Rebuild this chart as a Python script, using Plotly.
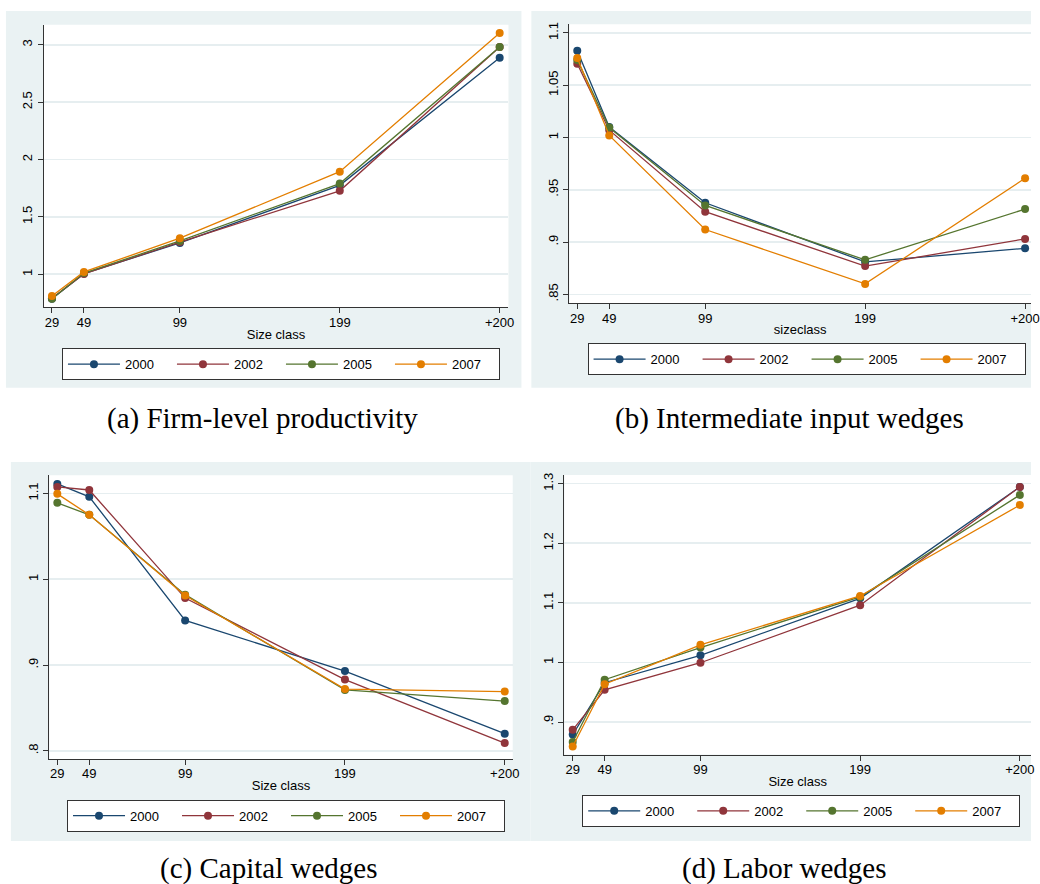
import plotly.graph_objects as go

# ---------------- data ----------------
size_labels = ["29", "49", "99", "199", "+200"]
size_codes = [20, 40, 100, 200, 300]
years = ["2000", "2002", "2005", "2007"]
colors = ["#1a476f", "#90353b", "#55752f", "#e37e00"]

# (a) Firm-level productivity
prod_2000 = [0.786, 1.005, 1.273, 1.775, 2.888]
prod_2002 = [0.790, 1.002, 1.280, 1.727, 2.980]
prod_2005 = [0.785, 1.010, 1.290, 1.790, 2.980]
prod_2007 = [0.809, 1.020, 1.314, 1.894, 3.103]

# (b) Intermediate input wedges
inter_2000 = [1.083, 1.010, 0.9376, 0.881, 0.894]
inter_2002 = [1.0705, 1.007, 0.929, 0.877, 0.903]
inter_2005 = [1.074, 1.0095, 0.935, 0.883, 0.9315]
inter_2007 = [1.076, 1.002, 0.912, 0.860, 0.961]

# (c) Capital wedges
cap_2000 = [1.111, 1.096, 0.952, 0.893, 0.820]
cap_2002 = [1.1075, 1.104, 0.978, 0.883, 0.809]
cap_2005 = [1.089, 1.075, 0.982, 0.871, 0.858]
cap_2007 = [1.0995, 1.075, 0.981, 0.872, 0.869]

# (d) Labor wedges
lab_2000 = [0.879, 0.966, 1.012, 1.1075, 1.2945]
lab_2002 = [0.887, 0.954, 0.9995, 1.096, 1.2945]
lab_2005 = [0.8665, 0.971, 1.025, 1.110, 1.281]
lab_2007 = [0.859, 0.9635, 1.0295, 1.1115, 1.264]

ticks_a = [1, 1.5, 2, 2.5, 3]
labels_a = ["1", "1.5", "2", "2.5", "3"]
ticks_b = [0.85, 0.9, 0.95, 1, 1.05, 1.1]
labels_b = [".85", ".9", ".95", "1", "1.05", "1.1"]
ticks_c = [0.8, 0.9, 1, 1.1]
labels_c = [".8", ".9", "1", "1.1"]
ticks_d = [0.9, 1, 1.1, 1.2, 1.3]
labels_d = [".9", "1", "1.1", "1.2", "1.3"]

captions = ["(a) Firm-level productivity", "(b) Intermediate input wedges",
            "(c) Capital wedges", "(d) Labor wedges"]
xtitles = ["Size class", "sizeclass", "Size class", "Size class"]

# ---------------- layout geometry ----------------
W, H = 1040, 884
SANS = "Liberation Sans, Arial, sans-serif"
SERIF = "Liberation Serif, Times New Roman, serif"

def px_x(v):
    return v / W

def px_y(v):
    return 1 - v / H

panels = [
    dict(series=[prod_2000, prod_2002, prod_2005, prod_2007],
         xdom=(43.9, 512.9), ydom=(22.7, 306.0), xr=[14.73, 305.5], yr=[0.7113, 3.1757],
         yt=ticks_a, yl=labels_a, leg=(62.5, 347.0), bg=(6, 9, 526, 386.7),
         cap=(264.5, 417)),
    dict(series=[inter_2000, inter_2002, inter_2005, inter_2007],
         xdom=(574.3, 1040), ydom=(22.3, 301.7), xr=[15.04, 303.7], yr=[0.8417, 1.1083],
         yt=ticks_b, yl=labels_b, leg=(592.7, 342.0), bg=(536, 9, 1040, 386.7),
         cap=(796, 417)),
    dict(series=[cap_2000, cap_2002, cap_2005, cap_2007],
         xdom=(49.7, 517.2), ydom=(474.3, 758.6), xr=[14.97, 305.0], yr=[0.7906, 1.1212],
         yt=ticks_c, yl=labels_c, leg=(67.6, 799.5), bg=(11, 461, 535, 841),
         cap=(271, 868)),
    dict(series=[lab_2000, lab_2002, lab_2005, lab_2007],
         xdom=(569.3, 1040), ydom=(474.0, 754.3), xr=[14.78, 307.0], yr=[0.8454, 1.3146],
         yt=ticks_d, yl=labels_d, leg=(587.3, 794.7), bg=(535, 461, 1040, 841),
         cap=(791.5, 868)),
]

fig = go.Figure()
shapes = []
annotations = []
layout_extra = {}

for i, p in enumerate(panels):
    n = "" if i == 0 else str(i + 1)
    xa, ya = "x" + n, "y" + n
    leg = "legend" + n
    for j, yr_name in enumerate(years):
        fig.add_trace(go.Scatter(
            x=size_codes, y=p["series"][j], mode="lines+markers", name=yr_name,
            xaxis=xa, yaxis=ya, legend=leg,
            line=dict(color=colors[j], width=1.3),
            marker=dict(color=colors[j], size=8, symbol="circle"),
            hoverinfo="skip"))
    layout_extra["xaxis" + n] = dict(
        domain=[px_x(p["xdom"][0]), px_x(p["xdom"][1])], range=p["xr"], anchor=ya,
        tickmode="array", tickvals=size_codes, ticktext=size_labels,
        ticks="outside", ticklen=5, tickcolor="#333", tickwidth=1,
        showline=True, linecolor="#333", linewidth=1, showgrid=False, zeroline=False,
        tickfont=dict(family=SANS, size=13, color="#000"), ticklabelstandoff=-2,
        ticklabeloverflow="allow",
        title=dict(text=xtitles[i], standoff=0, font=dict(family=SANS, size=13, color="#000")),
        fixedrange=True)
    layout_extra["yaxis" + n] = dict(
        domain=[px_y(p["ydom"][1]), px_y(p["ydom"][0])], range=p["yr"], anchor=xa,
        tickmode="array", tickvals=p["yt"], ticktext=p["yl"], tickangle=-90,
        ticks="outside", ticklen=5, tickcolor="#333", tickwidth=1,
        showline=True, linecolor="#333", linewidth=1,
        showgrid=True, gridcolor="#e6eef0", gridwidth=1.5, zeroline=False,
        tickfont=dict(family=SANS, size=13, color="#000"), fixedrange=True)
    layout_extra[leg] = dict(
        orientation="h", x=px_x(p["leg"][0]), y=px_y(p["leg"][1]),
        xanchor="left", yanchor="top", bgcolor="white", bordercolor="#333", borderwidth=1,
        font=dict(family=SANS, size=13, color="#000"), itemwidth=52, entrywidth=42,
        itemclick=False, itemdoubleclick=False)
    x0, y0, x1, y1 = p["bg"]
    shapes.append(dict(type="rect", xref="paper", yref="paper", layer="below",
                       x0=px_x(x0), x1=px_x(x1), y0=px_y(y1), y1=px_y(y0),
                       fillcolor="#eaf2f3", line=dict(width=0)))
    annotations.append(dict(text=captions[i], xref="paper", yref="paper",
                            x=px_x(p["cap"][0]), y=px_y(p["cap"][1]),
                            xanchor="center", yanchor="middle", showarrow=False,
                            font=dict(family=SERIF, size=29, color="#000")))

# white plot regions on top of the grey panels
for i in range(4):
    n = "" if i == 0 else str(i + 1)
    shapes.append(dict(type="rect", xref="x" + n + " domain", yref="y" + n + " domain",
                       layer="below", x0=0, x1=1, y0=0, y1=1,
                       fillcolor="white", line=dict(width=0)))

fig.update_layout(
    width=W, height=H, margin=dict(l=0, r=0, t=0, b=0),
    paper_bgcolor="white", plot_bgcolor="white",
    font=dict(family=SANS, size=13, color="#000"),
    shapes=shapes, annotations=annotations, **layout_extra)

fig.write_html(
    "out.html",
    config={"displayModeBar": False, "staticPlot": True},
    post_script=("document.documentElement.style.overflow='hidden';"
                 "document.body.style.overflow='hidden';"
                 "document.body.style.margin='0';"
                 "document.body.style.padding='0';"))
